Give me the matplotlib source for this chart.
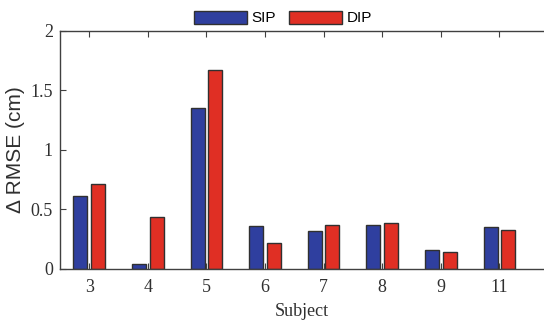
import matplotlib

matplotlib.use("Agg")

import matplotlib.pyplot as plt
import numpy as np

subjects = ["3", "4", "5", "6", "7", "8", "9", "11"]
sip = [0.61, 0.045, 1.35, 0.36, 0.32, 0.365, 0.16, 0.353]
dip = [0.713, 0.437, 1.67, 0.215, 0.372, 0.387, 0.143, 0.328]

blue = "#2f3f9f"
red = "#e02f24"
edge = "#303030"
axis_color = "#404040"

fig = plt.figure(figsize=(5.44, 3.24), dpi=100)
ax = fig.add_axes([0.110, 0.170, 0.890, 0.735])

x = np.arange(1, len(subjects) + 1)
width = 0.24
offset = 0.15
ax.bar(x - offset, sip, width, color=blue, edgecolor=edge, linewidth=1.0, label="SIP")
ax.bar(x + offset, dip, width, color=red, edgecolor=edge, linewidth=1.0, label="DIP")

ax.set_xlim(0.5, 8.76)
ax.set_ylim(0, 2)
ax.set_xticks(x)
ax.set_xticklabels(subjects)
ax.set_yticks([0, 0.5, 1, 1.5, 2])
ax.set_yticklabels(["0", "0.5", "1", "1.5", "2"])

serif = "Liberation Serif"
sans = "Liberation Sans"
for lbl in ax.get_xticklabels() + ax.get_yticklabels():
    lbl.set_fontfamily(serif)
    lbl.set_fontsize(13)
    lbl.set_color("#303030")

ax.tick_params(axis="x", direction="in", top=True, length=4, width=0.8, color=axis_color, pad=7)
ax.tick_params(axis="y", direction="in", right=False, length=4, width=0.8, color=axis_color, pad=5)
for side in ["left", "bottom", "top"]:
    ax.spines[side].set_color(axis_color)
    ax.spines[side].set_linewidth(1.0)
ax.spines["right"].set_visible(False)

ax.set_xlabel("Subject", fontfamily=serif, fontsize=13, color="#303030", labelpad=5)
ax.set_ylabel("\u0394 RMSE (cm)", fontfamily=sans, fontsize=15, color="#303030", labelpad=4)

fig.legend(
    loc="upper center",
    bbox_to_anchor=(0.52, 1.01),
    ncol=2,
    frameon=False,
    prop={"family": sans, "size": 11},
    handlelength=3.5,
    handleheight=0.95,
    handletextpad=0.3,
    columnspacing=0.8,
)

fig.savefig("out.png", dpi=100)
plt.close(fig)
